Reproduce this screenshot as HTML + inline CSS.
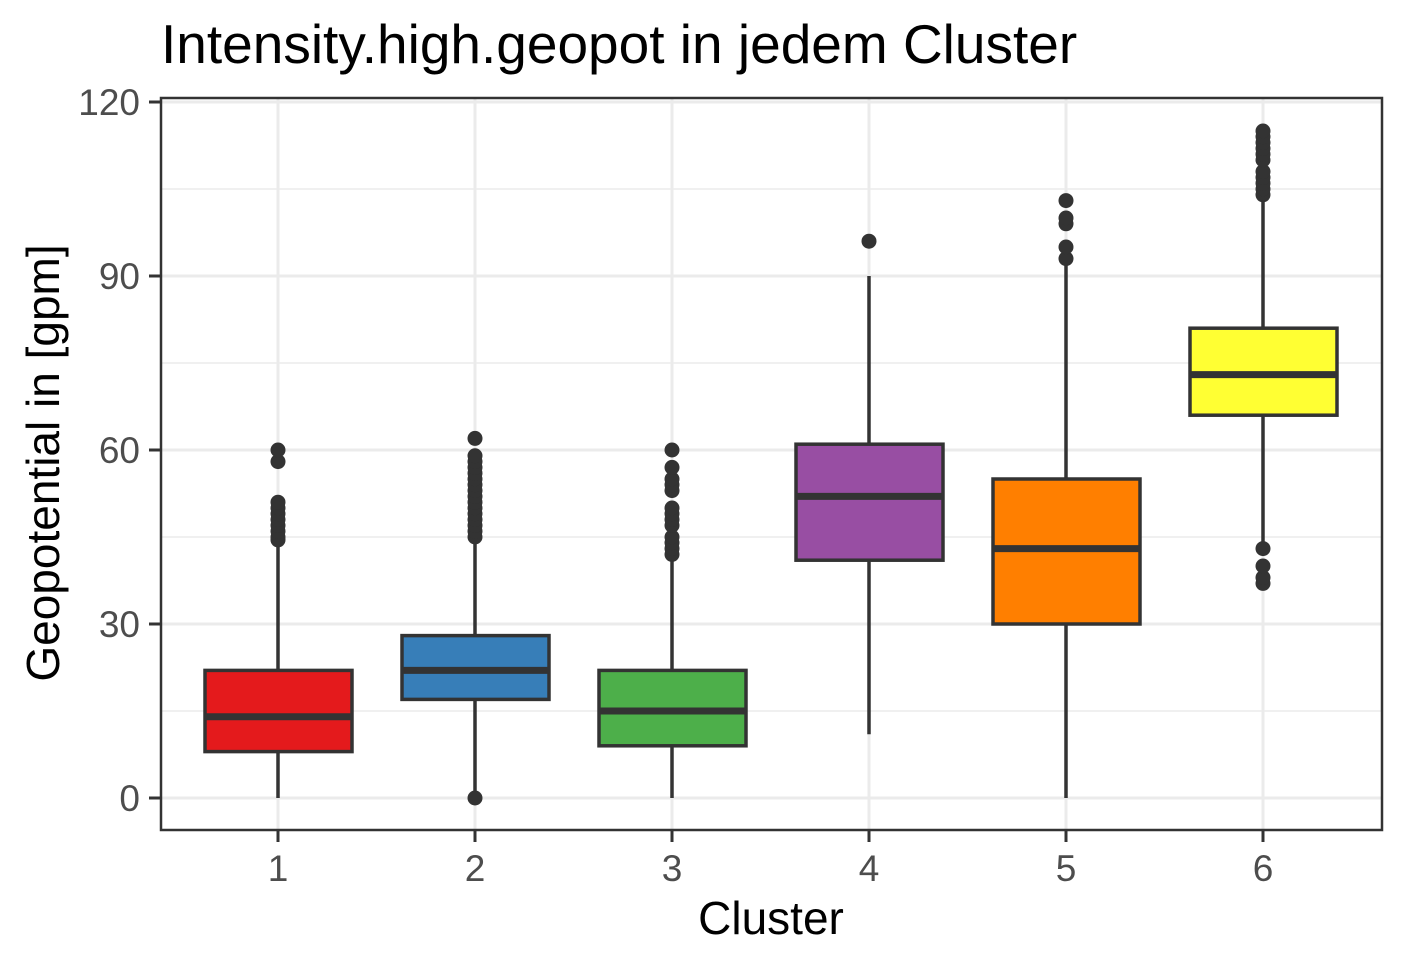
<!DOCTYPE html>
<html><head><meta charset="utf-8"><style>
body{margin:0;background:#fff;}
svg text{font-family:"Liberation Sans",Arial,sans-serif;}
</style></head><body>
<svg id="chart" width="1406" height="965" xmlns="http://www.w3.org/2000/svg">
<text x="161" y="63" font-size="55" fill="#000">Intensity.high.geopot in jedem Cluster</text>
<g id="grid"></g>
<g id="marks"></g>
<rect x="161" y="98" width="1221" height="732" fill="none" stroke="#333" stroke-width="2.5"/>
<g id="axes"></g>
<text x="771" y="934" font-size="46" text-anchor="middle" fill="#000">Cluster</text>
<text transform="translate(59,463) rotate(-90)" font-size="46" text-anchor="middle" fill="#000">Geopotential in [gpm]</text>
</svg>
<script>
const categories=["1","2","3","4","5","6"];
const colors=["#E41A1C","#377EB8","#4DAF4A","#984EA3","#FF7F00","#FFFF33"];
const lowWhisker=[0,1,0,11,0,44];
const q1=[8,17,9,41,30,66];
const median=[14,22,15,52,43,73];
const q3=[22,28,22,61,55,81];
const highWhisker=[44,44,42,90,92,103];
const outliers=[
 [44.5,45,46,47,48,49,50,51,58,60],
 [0,45,46,47,48,49,50,51,52,53,54,55,56,57,58,59,62],
 [42,43,44,45,47,48,49,50,53,54,55,57,60],
 [96],
 [93,95,99,100,103],
 [37,38,40,43,104,105,106,107,108,110,111,112,113,114,115]
];
const yTicks=[0,30,60,90,120];
const NS="http://www.w3.org/2000/svg";
const y=v=>798-v*5.8;
const x=i=>278+i*197;
const grid=document.getElementById('grid'),marks=document.getElementById('marks'),axes=document.getElementById('axes');
function mk(tag,attrs,parent){const e=document.createElementNS(NS,tag);for(const k in attrs)e.setAttribute(k,attrs[k]);parent.appendChild(e);return e;}
for(let i=0;i<yTicks.length-1;i++){
 const m=(yTicks[i]+yTicks[i+1])/2;
 const l=mk('line',{x1:161,x2:1382,y1:y(m),y2:y(m),stroke:'#ebebeb','stroke-width':1.5},grid);
 
 
}
yTicks.forEach(t=>{
 const l=mk('line',{x1:161,x2:1382,y1:y(t),y2:y(t),stroke:'#ebebeb','stroke-width':3},grid);
 
 
 const tk=mk('line',{x1:149,x2:161,y1:y(t),y2:y(t),stroke:'#333','stroke-width':3},axes);
 
 
 const tx=mk('text',{x:140,y:y(t)+13,'text-anchor':'end','font-size':37,fill:'#4d4d4d'},axes);
 tx.textContent=t;
 
 
});
categories.forEach((c,i)=>{
 const cx=x(i);
 const g=mk('line',{x1:cx,x2:cx,y1:98,y2:830,stroke:'#ebebeb','stroke-width':3},grid);
 
 
 const tk=mk('line',{x1:cx,x2:cx,y1:830,y2:842,stroke:'#333','stroke-width':3},axes);
 
 
 const tx=mk('text',{x:cx,y:881,'text-anchor':'middle','font-size':37,fill:'#4d4d4d'},axes);
 tx.textContent=c;
 
 
 const grp=mk('g',{},marks);
 
 
 const w=mk('line',{x1:cx,x2:cx,y1:y(lowWhisker[i]),y2:y(highWhisker[i]),stroke:'#333','stroke-width':3.5},grp);
 
 
 const b=mk('rect',{x:cx-73,y:y(q3[i]),width:147,height:y(q1[i])-y(q3[i]),fill:colors[i],stroke:'#333','stroke-width':3.5},grp);
 
 
 const md=mk('line',{x1:cx-73,x2:cx+74,y1:y(median[i]),y2:y(median[i]),stroke:'#333','stroke-width':7},grp);
 
 
 outliers[i].forEach(v=>{
  const p=mk('circle',{cx:cx,cy:y(v),r:7.5,fill:'#333'},grp);
  
  
 });
});
</script>
</body></html>
